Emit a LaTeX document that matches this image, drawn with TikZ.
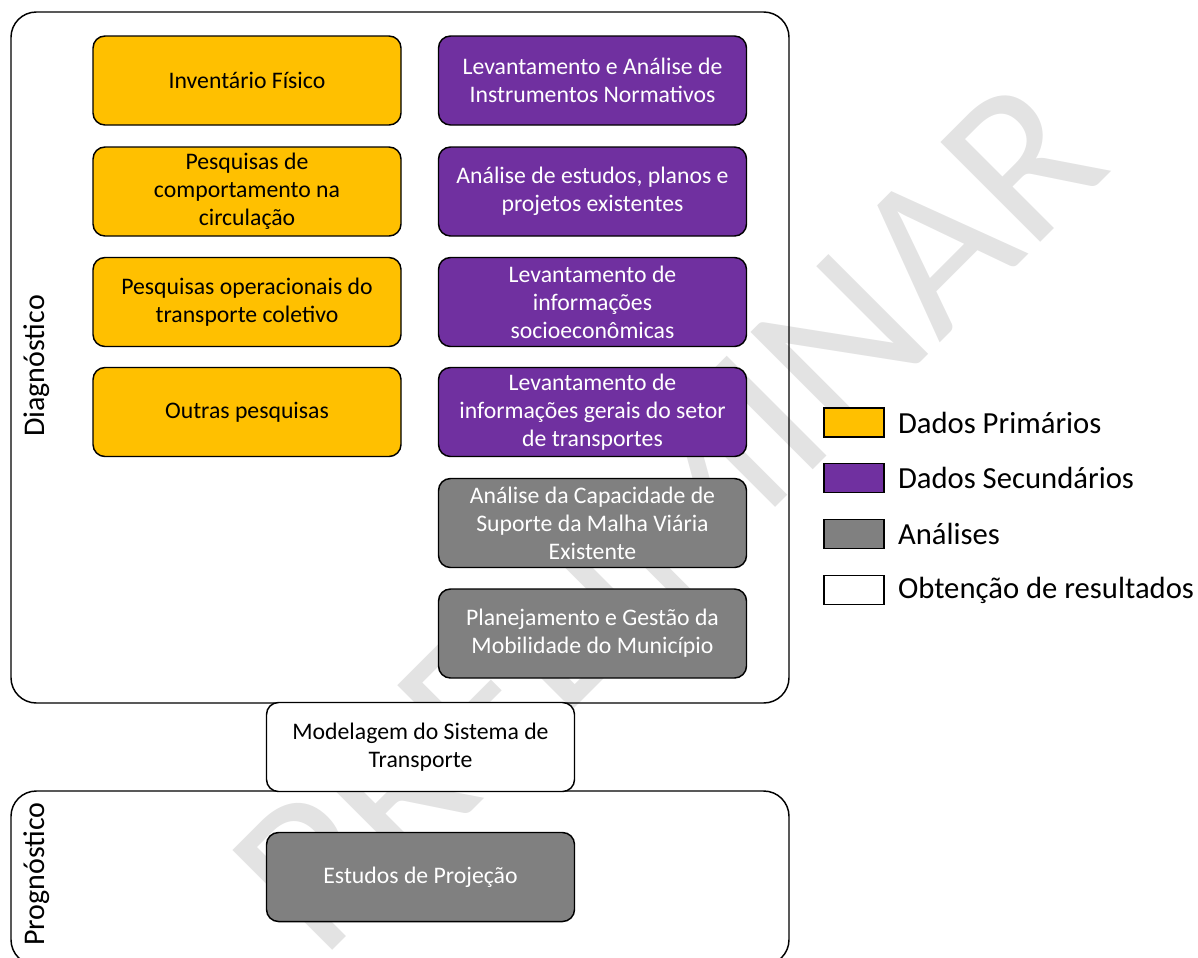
\documentclass[tikz,border=0pt]{standalone}
\usepackage{fontspec}
\setmainfont{Carlito}
\usetikzlibrary{positioning}
\definecolor{amarelo}{HTML}{FFC000}
\definecolor{roxo}{HTML}{7030A0}
\definecolor{cinza}{HTML}{808080}
\pgfdeclarelayer{bg}
\pgfsetlayers{bg,main}
\tikzset{
    every node/.style={font=\fontsize{17.8}{21}\selectfont, align=center},
    caixa/.style={draw, rounded corners=9pt, line width=1.1pt,
    	minimum width=231pt, minimum height=66.75pt, inner sep=2pt},
    primario/.style={caixa, fill=amarelo},
    secundario/.style={caixa, fill=roxo, text=white},
    analise/.style={caixa, fill=cinza, text=white},
    resultado/.style={caixa, fill=white},
    quadro/.style={draw, rounded corners=19pt, line width=1.1pt, inner sep=0pt},
    legenda/.style={draw, line width=1.1pt, minimum width=45pt,
    	minimum height=21.75pt, inner sep=0pt},
    legtexto/.style={font=\fontsize{23}{27}\selectfont, inner sep=0pt},
    rotulo/.style={font=\fontsize{22.5}{27}\selectfont, rotate=90, inner sep=0pt}
}

\begin{document}
\begin{tikzpicture}[x=0.75pt, y=-0.75pt]
  \useasboundingbox (0,0) rectangle (1198,957);

  \begin{pgfonlayer}{bg}
	  \node (marca) [text=black!11, font=\fontsize{165}{165}\selectfont, rotate=45]
	  	at (668,515) {PRELIMINAR};
  \end{pgfonlayer}

  % quadros
  \node (diag) [quadro, minimum width=583.5pt, minimum height=518.25pt] at (400,357.5) {};
  \node (progn) [quadro, minimum width=583.5pt, minimum height=130.5pt] at (400,878) {};

  \node (tdiag) [rotulo] at (37,366) {Diagnóstico};
  \node (tprogn) [rotulo] at (37,874) {Prognóstico};

  % dados primarios
  \node (inv) [primario] at (247,80.5) {Inventário Físico};
  \node (comp) [primario] at (247,191.5) {Pesquisas de\\comportamento na\\circulação};
  \node (oper) [primario] at (247,302) {Pesquisas operacionais do\\transporte coletivo};
  \node (outras) [primario] at (247,412) {Outras pesquisas};

  % dados secundarios
  \node (norm) [secundario] at (592.5,80.5) {Levantamento e Análise de\\Instrumentos Normativos};
  \node (estud) [secundario] at (592.5,191.5) {Análise de estudos, planos e\\projetos existentes};
  \node (socio) [secundario] at (592.5,302) {Levantamento de\\informações\\socioeconômicas};
  \node (setor) [secundario] at (592.5,412) {Levantamento de\\informações gerais do setor\\de transportes};

  % analises
  \node (capac) [analise] at (592.5,523) {Análise da Capacidade de\\Suporte da Malha Viária\\Existente};
  \node (gestao) [analise] at (592.5,633.5) {Planejamento e Gestão da\\Mobilidade do Município};

  \node (model) [resultado] at (420.5,747) {Modelagem do Sistema de\\Transporte};
  \node (proj) [analise] at (420.5,877) {Estudos de Projeção};

  % legenda
  \node (lprim) [legenda, fill=amarelo] at (854,422.5) {};
  \node (lsec) [legenda, fill=roxo] at (854,478) {};
  \node (lanal) [legenda, fill=cinza] at (854,534) {};
  \node (lres) [legenda, fill=white] at (854,590) {};

  \node [legtexto, right=9.75pt of lprim] {Dados Primários};
  \node [legtexto, right=9.75pt of lsec] {Dados Secundários};
  \node [legtexto, right=9.75pt of lanal] {Análises};
  \node [legtexto, right=9.75pt of lres] {Obtenção de resultados};

\end{tikzpicture}
\end{document}
